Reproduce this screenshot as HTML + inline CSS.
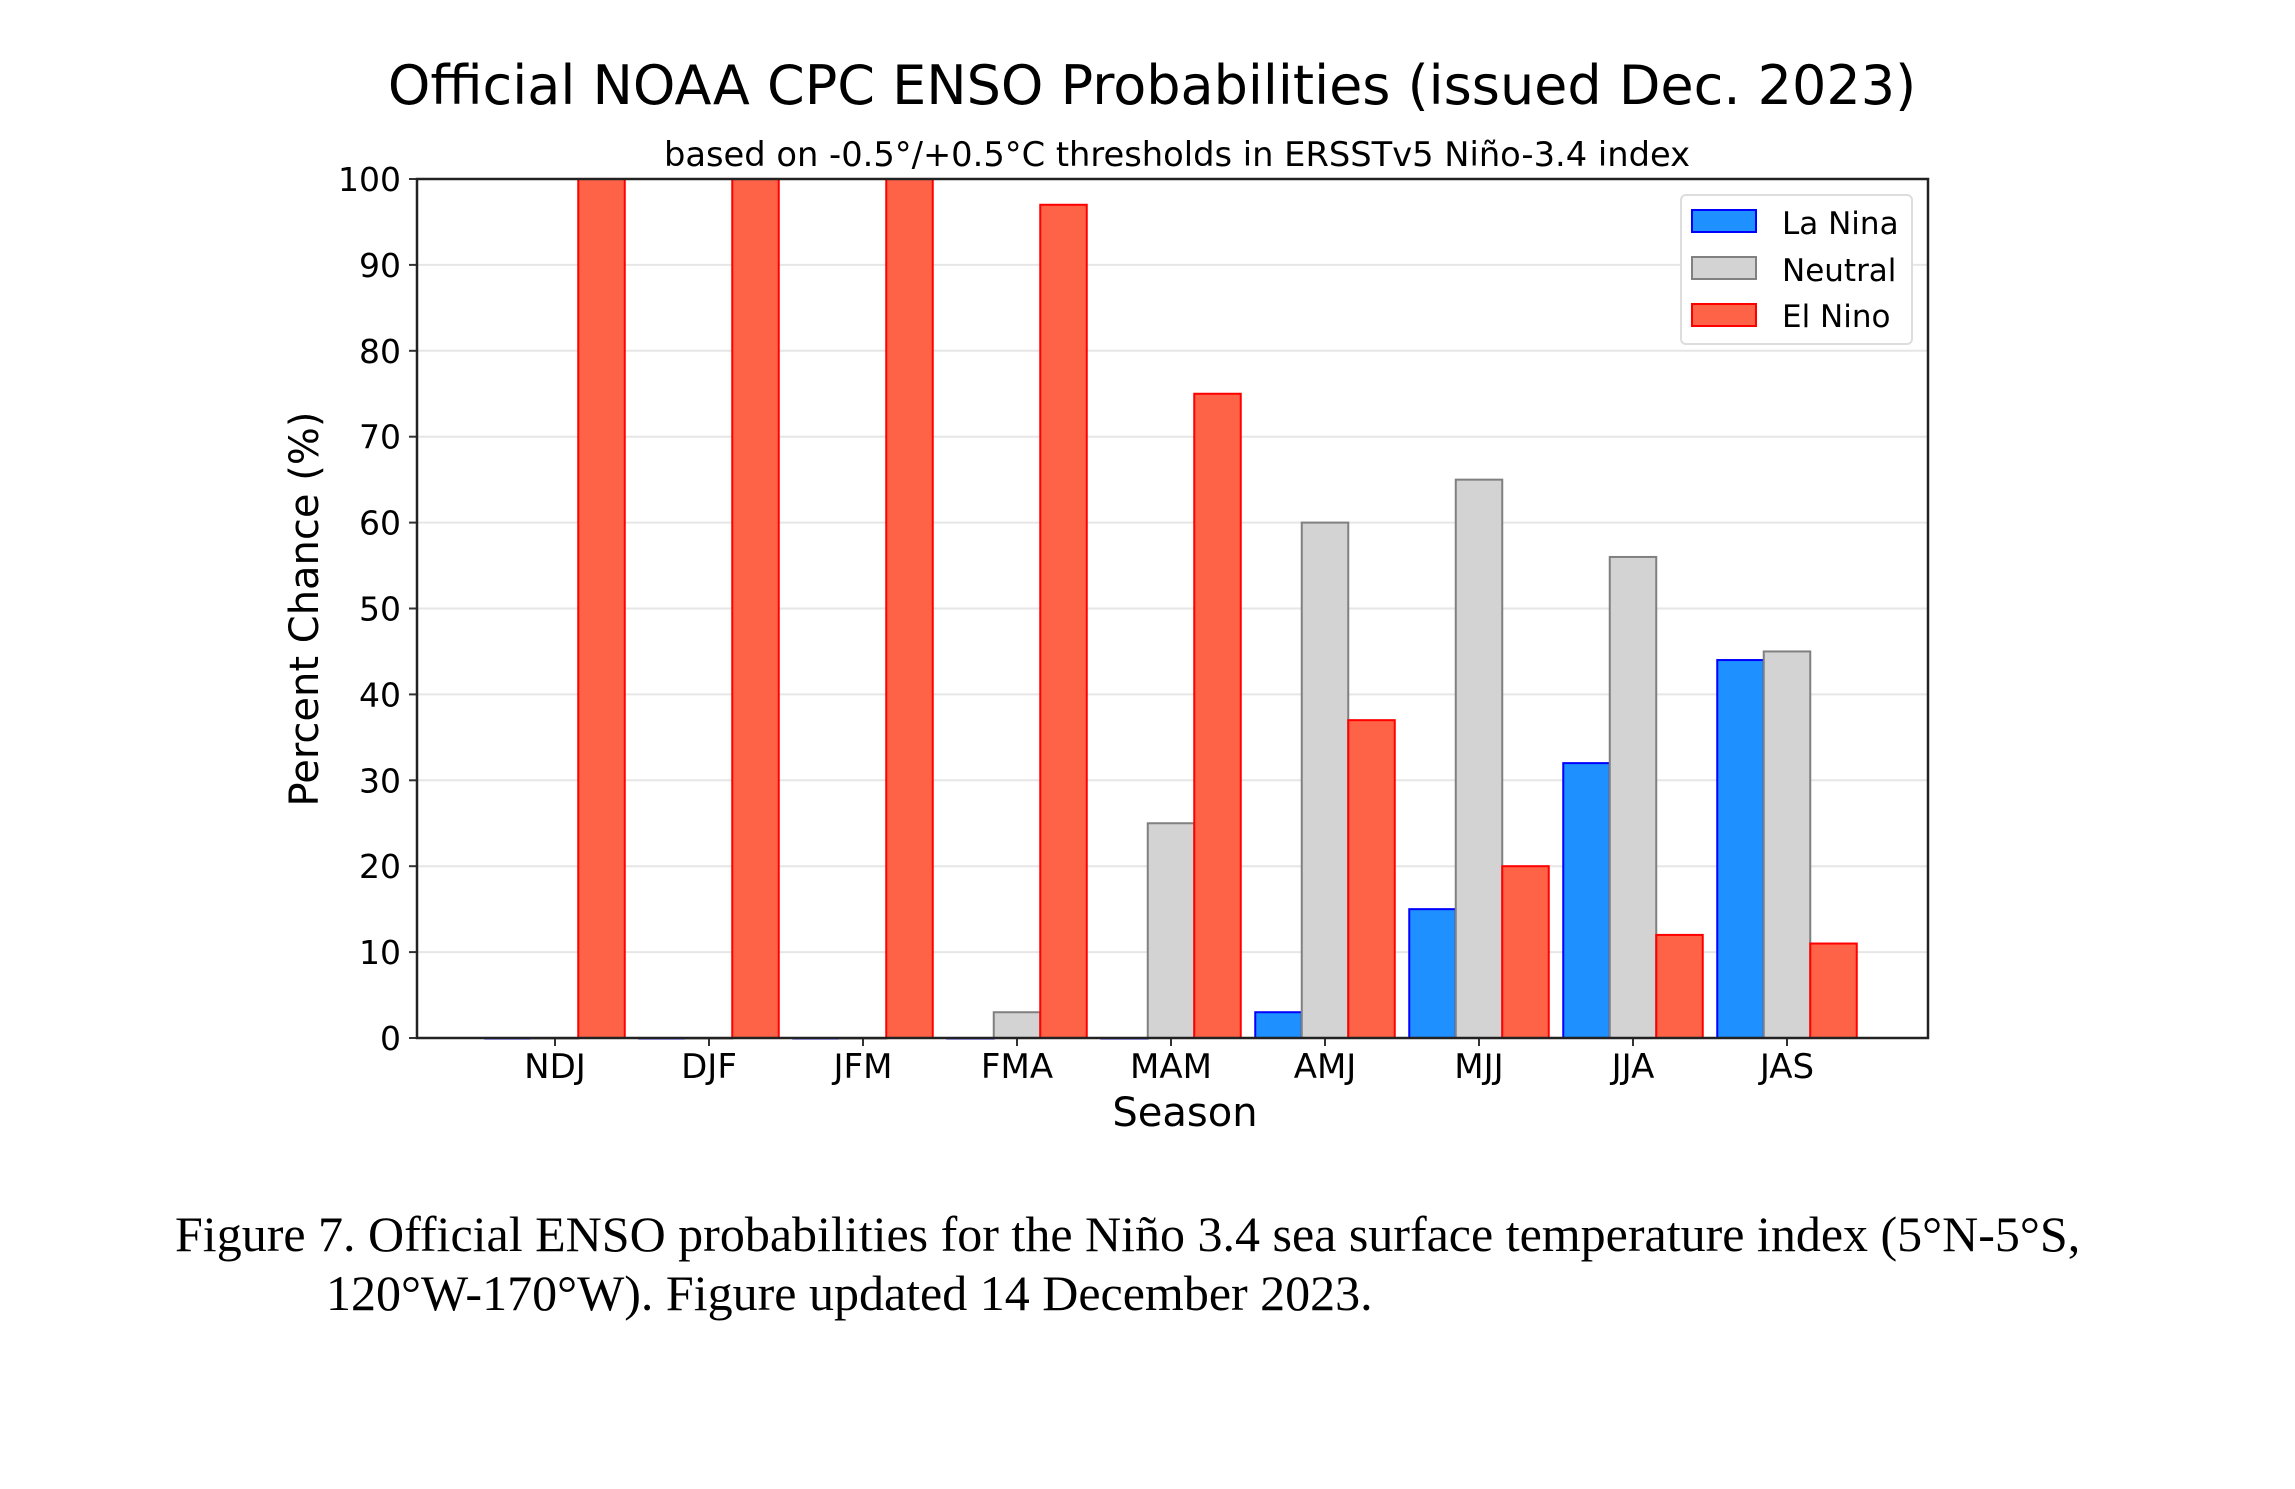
<!DOCTYPE html>
<html><head><meta charset="utf-8"><style>
body{margin:0;background:#fff;width:2295px;height:1484px;overflow:hidden}
svg text{font-family:"DejaVu Sans","Liberation Sans",sans-serif;fill:#000}
</style></head><body>
<svg id="c" width="2295" height="1484" xmlns="http://www.w3.org/2000/svg">
<text x="1152" y="104" font-size="54" text-anchor="middle">Official NOAA CPC ENSO Probabilities (issued Dec. 2023)</text>
<text x="1177" y="166" font-size="33.7" text-anchor="middle">based on -0.5°/+0.5°C thresholds in ERSSTv5 Niño-3.4 index</text>
<g id="grid"></g><g id="bars"></g><g id="axes"></g>
<text transform="translate(318,609) rotate(-90)" font-size="40" text-anchor="middle">Percent Chance (%)</text>
<text x="1185" y="1126" font-size="40" text-anchor="middle">Season</text>
<g>
<rect x="1681" y="195" width="231" height="149" rx="5" fill="#fff" stroke="#ddd" stroke-width="2"/>
<rect x="1692" y="210" width="64" height="22" fill="#1e90ff" stroke="#0000ff" stroke-width="2"/>
<text x="1782" y="234" font-size="31">La Nina</text>
<rect x="1692" y="257" width="64" height="22" fill="#d3d3d3" stroke="#808080" stroke-width="2"/>
<text x="1782" y="281" font-size="31">Neutral</text>
<rect x="1692" y="304" width="64" height="22" fill="#ff6347" stroke="#ff0000" stroke-width="2"/>
<text x="1782" y="327" font-size="31">El Nino</text>
</g>
<text x="175" y="1251" font-size="50" style="font-family:'Liberation Serif',serif">Figure 7. Official ENSO probabilities for the Niño 3.4 sea surface temperature index (5°N-5°S,</text>
<text x="326" y="1310" font-size="50" style="font-family:'Liberation Serif',serif">120°W-170°W). Figure updated 14 December 2023.</text>
</svg>
<script>
const seasons=["NDJ","DJF","JFM","FMA","MAM","AMJ","MJJ","JJA","JAS"];
const laNina=[0,0,0,0,0,3,15,32,44];
const neutral=[0,0,0,3,25,60,65,56,45];
const elNino=[100,100,100,97,75,37,20,12,11];
const yTicks=[0,10,20,30,40,50,60,70,80,90,100];
const NS="http://www.w3.org/2000/svg";
const L=417,R=1928,T=179,B=1038;
const x=i=>555+i*154;
const y=v=>B-(v/100)*(B-T);
const bw=46.5;
function mk(tag,attrs,parent){const e=document.createElementNS(NS,tag);for(const k in attrs)e.setAttribute(k,attrs[k]);document.getElementById(parent).appendChild(e);return e;}
yTicks.forEach(t=>{
 if(t>0&&t<100){const g=mk('line',{x1:L,x2:R,y1:y(t),y2:y(t),stroke:'#e6e6e6','stroke-width':2},'grid');
 
 }
 const tk=mk('line',{x1:L-8,x2:L,y1:y(t),y2:y(t),stroke:'#333','stroke-width':2},'axes');
 
 
 const tl=mk('text',{x:L-16,y:y(t)+12,'font-size':33,'text-anchor':'end'},'axes');tl.textContent=t;
 
 
});
const series=[[laNina,'#1e90ff','#0000ff',-1,'la-nina'],[neutral,'#d3d3d3','#808080',0,'neutral'],[elNino,'#ff6347','#ff0000',1,'el-nino']];
seasons.forEach((s,i)=>{
 series.forEach(([vals,f,st,off,nm])=>{
  const v=vals[i];const x0=x(i)+off*bw-bw/2;
  const r=mk('rect',{x:x0,y:y(v),width:bw,height:Math.max(B-y(v),0.5),fill:f,stroke:st,'stroke-width':2},'bars');
  
  
 });
 const tk=mk('line',{x1:x(i),x2:x(i),y1:B,y2:B+8,stroke:'#333','stroke-width':2},'axes');
 
 
 const tl=mk('text',{x:x(i),y:B+40,'font-size':34,'text-anchor':'middle'},'axes');tl.textContent=s;
 
 
});
const fr=mk('rect',{x:L,y:T,width:R-L,height:B-T,fill:'none',stroke:'#222','stroke-width':2.5},'axes');


</script>
</body></html>
